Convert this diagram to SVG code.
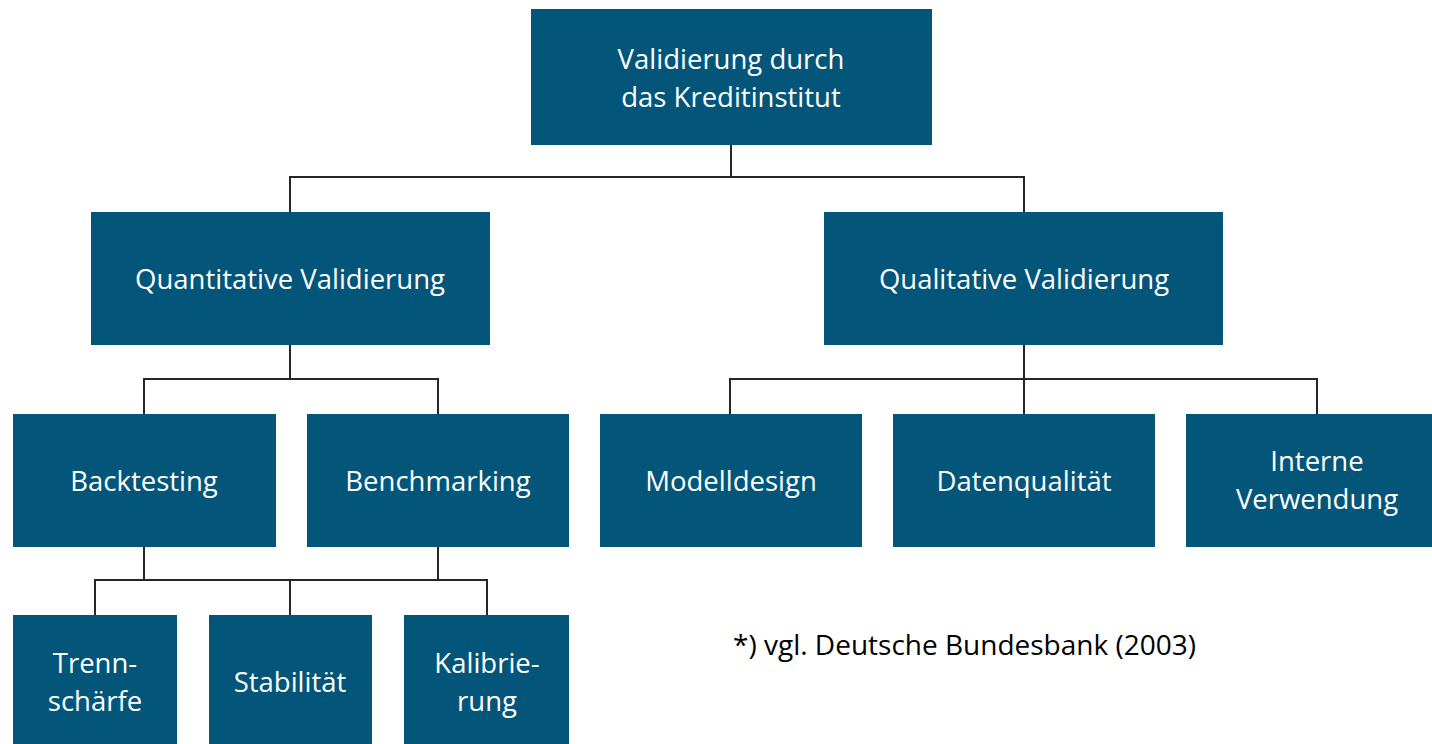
<svg xmlns="http://www.w3.org/2000/svg" width="1432" height="744" viewBox="0 0 1432 744">
<style>
.box{fill:#03557A;}
.t{fill:#ffffff;font-family:"Open Sans","Noto Sans",sans-serif;font-size:27.5px;text-anchor:middle;}
.conn{stroke:#262626;stroke-width:2;fill:none;}
.note{fill:#000000;font-family:"Open Sans","Noto Sans",sans-serif;font-size:28px;}
</style>
<rect width="1432" height="744" fill="#ffffff"/>
<g id="connectors">
<path class="conn" d="M731,145V177M290,212V177H1024V212"/>
<path class="conn" d="M290,345V379M144,414V379H438V414"/>
<path class="conn" d="M1024,345V379M730,414V379H1317V414M1024,379V414"/>
<path class="conn" d="M144,547V580M438,547V580M95,615V580H487V615M290,580V615"/>
</g>
<g id="root"><rect class="box" x="531" y="9" width="401" height="136"/><text class="t" x="731" y="69">Validierung durch</text><text class="t" x="731" y="107">das Kreditinstitut</text></g>
<g id="quant"><rect class="box" x="91" y="212" width="399" height="133"/><text class="t" x="290" y="289">Quantitative Validierung</text></g>
<g id="qual"><rect class="box" x="824" y="212" width="399" height="133"/><text class="t" x="1024" y="289">Qualitative Validierung</text></g>
<g id="backtesting"><rect class="box" x="13" y="414" width="263" height="133"/><text class="t" x="144" y="491">Backtesting</text></g>
<g id="benchmarking"><rect class="box" x="307" y="414" width="262" height="133"/><text class="t" x="438" y="491">Benchmarking</text></g>
<g id="modelldesign"><rect class="box" x="600" y="414" width="262" height="133"/><text class="t" x="731" y="491">Modelldesign</text></g>
<g id="datenqualitaet"><rect class="box" x="893" y="414" width="262" height="133"/><text class="t" x="1024" y="491">Datenqualität</text></g>
<g id="interne"><rect class="box" x="1186" y="414" width="262" height="133"/><text class="t" x="1317" y="471">Interne</text><text class="t" x="1317" y="509">Verwendung</text></g>
<g id="trennschaerfe"><rect class="box" x="13" y="615" width="164" height="140"/><text class="t" x="95" y="673">Trenn-</text><text class="t" x="95" y="711">schärfe</text></g>
<g id="stabilitaet"><rect class="box" x="209" y="615" width="163" height="140"/><text class="t" x="290" y="692">Stabilität</text></g>
<g id="kalibrierung"><rect class="box" x="404" y="615" width="165" height="140"/><text class="t" x="487" y="673">Kalibrie-</text><text class="t" x="487" y="711">rung</text></g>
<text class="note" x="733" y="655">*) vgl. Deutsche Bundesbank (2003)</text>
</svg>
